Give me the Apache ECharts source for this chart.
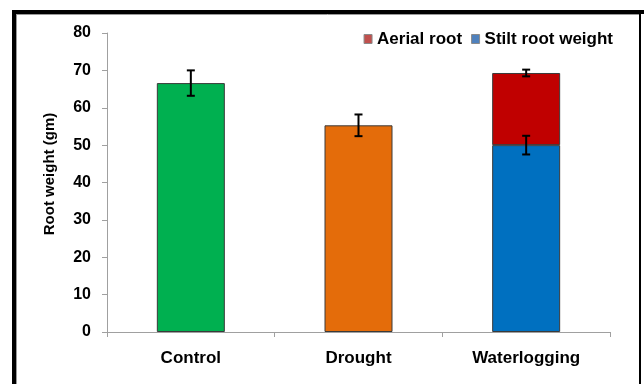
<!DOCTYPE html>
<html>
<head>
<meta charset="utf-8">
<script src="https://cdn.jsdelivr.net/npm/echarts@6/dist/echarts.min.js"></script>
<style>
  html, body { margin: 0; padding: 0; background: #fff; }
  #chart { width: 644px; height: 384px; }
</style>
</head>
<body>
<div id="chart"></div>
<script>
// Treatments along the x axis
const categories = ['Control', 'Drought', 'Waterlogging'];
// Stilt root weight (gm) and its standard error per treatment
const stiltRoot = [66.6, 55.3, 50.0];
const stiltErr = [3.4, 2.9, 2.5];
// Aerial root weight (gm), only measured under waterlogging
const aerialRoot = [null, null, 19.3];
const aerialErr = [null, null, 0.9];
// Y axis range and step
const yMin = 0, yMax = 80, yStep = 10;

// Per-bar colours for the base series
const baseColors = ['#00B050', '#E46C0A', '#0070C0'];

// Error bar rows: [category index, low, high]
const errRows = [];
categories.forEach((c, i) => {
  if (stiltRoot[i] != null) {
    errRows.push([i, stiltRoot[i] - stiltErr[i], stiltRoot[i] + stiltErr[i]]);
  }
  if (aerialRoot[i] != null) {
    const top = stiltRoot[i] + aerialRoot[i];
    errRows.push([i, top - aerialErr[i], top + aerialErr[i]]);
  }
});

const FONT = '"Liberation Sans", Arial, sans-serif';
const chart = echarts.init(document.getElementById('chart'), null, { renderer: 'canvas' });

chart.setOption({
  backgroundColor: '#fff',
  animation: false,
  grid: { left: 107, right: 34, top: 33, bottom: 52 },
  legend: {
    right: 31, top: 30, padding: 0,
    itemWidth: 8, itemHeight: 9, itemGap: 9,
    selectedMode: false,
    textStyle: { fontFamily: FONT, fontWeight: 'bold', fontSize: 17, color: '#000', lineHeight: 18 },
    data: [
      { name: 'Aerial root', icon: 'rect', itemStyle: { color: '#C0504D', borderColor: '#8a8a8a', borderWidth: 1 } },
      { name: 'Stilt root weight', icon: 'rect', itemStyle: { color: '#4F81BD', borderColor: '#8a8a8a', borderWidth: 1 } }
    ]
  },
  xAxis: {
    type: 'category',
    data: categories,
    axisLine: { lineStyle: { color: '#a0a0a0', width: 1 } },
    axisTick: { show: true, length: 5, alignWithLabel: false, lineStyle: { color: '#a0a0a0' } },
    axisLabel: { margin: 18, fontFamily: FONT, fontWeight: 'bold', fontSize: 17, color: '#000' }
  },
  yAxis: {
    type: 'value',
    min: yMin, max: yMax, interval: yStep,
    splitLine: { show: false },
    axisLine: { show: true, lineStyle: { color: '#a0a0a0', width: 1 } },
    axisTick: { show: true, length: 5, lineStyle: { color: '#a0a0a0' } },
    axisLabel: { margin: 16, fontFamily: FONT, fontWeight: 'bold', fontSize: 16, color: '#000' }
  },
  series: [
    {
      name: 'Stilt root weight',
      type: 'bar',
      stack: 'root',
      barWidth: 68,
      itemStyle: { borderColor: '#3a3a3a', borderWidth: 1 },
      data: stiltRoot.map((v, i) => ({ value: v, itemStyle: { color: baseColors[i] } })),
      color: '#0070C0'
    },
    {
      name: 'Aerial root',
      type: 'bar',
      stack: 'root',
      barWidth: 68,
      itemStyle: { color: '#C00000', borderColor: '#3a3a3a', borderWidth: 1 },
      data: aerialRoot.map(v => (v == null ? '-' : v)),
      color: '#C00000'
    },
    {
      name: 'errors',
      type: 'custom',
      z: 10,
      data: errRows,
      renderItem: function (params, api) {
        const x = api.value(0);
        const lo = api.coord([x, api.value(1)]);
        const hi = api.coord([x, api.value(2)]);
        const cap = 4;
        const style = { stroke: '#000', lineWidth: 2 };
        return {
          type: 'group',
          children: [
            { type: 'line', shape: { x1: hi[0], y1: hi[1], x2: lo[0], y2: lo[1] }, style },
            { type: 'line', shape: { x1: hi[0] - cap, y1: hi[1], x2: hi[0] + cap, y2: hi[1] }, style },
            { type: 'line', shape: { x1: lo[0] - cap, y1: lo[1], x2: lo[0] + cap, y2: lo[1] }, style }
          ]
        };
      }
    }
  ],
  graphic: [
    {
      type: 'text', x: 50, y: 174, rotation: Math.PI / 2,
      style: { text: 'Root weight (gm)', x: 0, y: 0, align: 'center', verticalAlign: 'middle',
               font: 'bold 15px ' + FONT, fill: '#000' }
    },
    // Frame around the chart area
    { type: 'line', shape: { x1: 12, y1: 12, x2: 644, y2: 12 }, style: { stroke: '#000', lineWidth: 4 } },
    { type: 'line', shape: { x1: 14, y1: 10, x2: 14, y2: 384 }, style: { stroke: '#000', lineWidth: 4 } },
    { type: 'line', shape: { x1: 16.5, y1: 14.5, x2: 16.5, y2: 384 }, style: { stroke: '#9a9a9a', lineWidth: 1 } },
    { type: 'line', shape: { x1: 16, y1: 14.5, x2: 639, y2: 14.5 }, style: { stroke: '#9a9a9a', lineWidth: 1 } },
    { type: 'line', shape: { x1: 640, y1: 10, x2: 640, y2: 384 }, style: { stroke: '#000', lineWidth: 2 } }
  ]
});
</script>
</body>
</html>
